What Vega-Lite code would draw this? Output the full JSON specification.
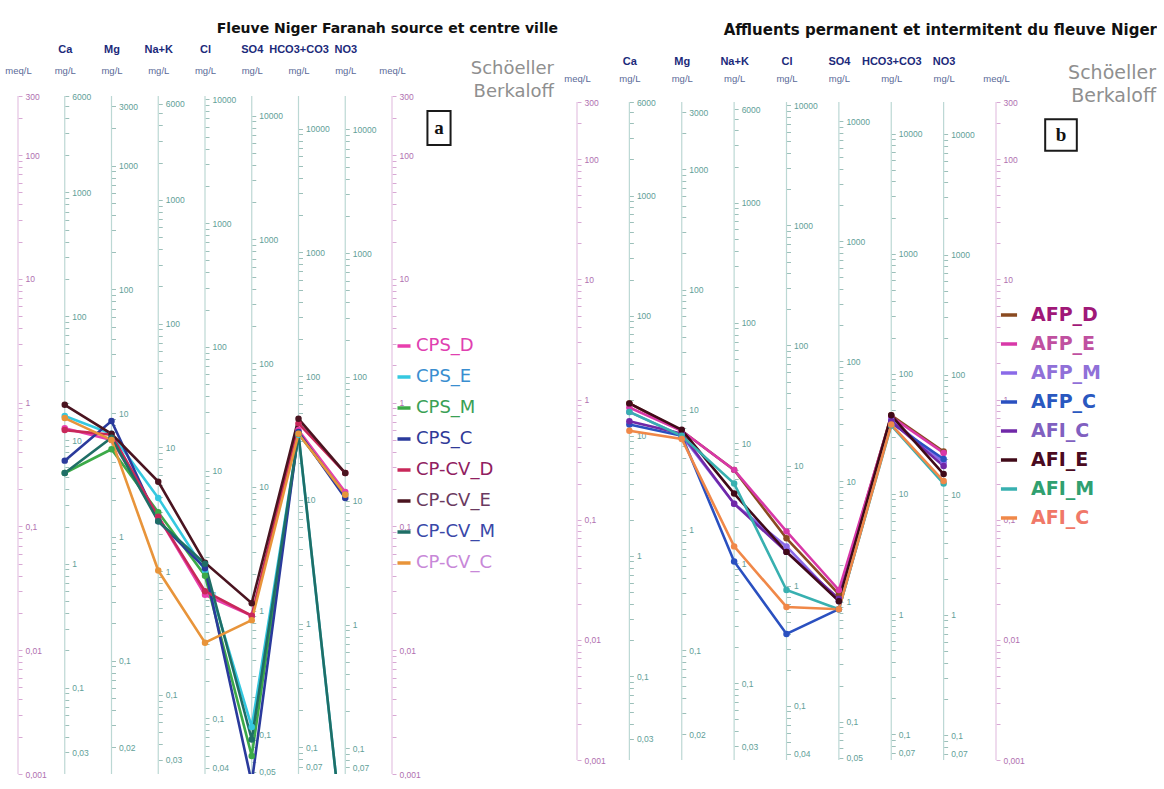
{
"$schema": "https://vega.github.io/schema/vega-lite/v6.json",
"background": "white",
"padding": {"left": 0, "top": 22, "right": 0, "bottom": 0},
"spacing": 5,
"config": {"view": {"stroke": null}, "font": "Liberation Sans"},
"datasets": {
"a": [
{"sample":"CPS_D","k":1,"ion":"Ca","meq":0.62},{"sample":"CPS_D","k":2,"ion":"Mg","meq":0.50},{"sample":"CPS_D","k":3,"ion":"Na+K","meq":0.12},{"sample":"CPS_D","k":4,"ion":"Cl","meq":0.028},{"sample":"CPS_D","k":5,"ion":"SO4","meq":0.019},{"sample":"CPS_D","k":6,"ion":"HCO3+CO3","meq":0.60},{"sample":"CPS_D","k":7,"ion":"NO3","meq":0.19},
{"sample":"CPS_E","k":1,"ion":"Ca","meq":0.78},{"sample":"CPS_E","k":2,"ion":"Mg","meq":0.56},{"sample":"CPS_E","k":3,"ion":"Na+K","meq":0.17},{"sample":"CPS_E","k":4,"ion":"Cl","meq":0.044},{"sample":"CPS_E","k":5,"ion":"SO4","meq":0.0024},{"sample":"CPS_E","k":6,"ion":"HCO3+CO3","meq":0.55},{"sample":"CPS_E","k":7,"ion":"NO3","meq":0.0002},
{"sample":"CPS_M","k":1,"ion":"Ca","meq":0.27},{"sample":"CPS_M","k":2,"ion":"Mg","meq":0.42},{"sample":"CPS_M","k":3,"ion":"Na+K","meq":0.13},{"sample":"CPS_M","k":4,"ion":"Cl","meq":0.040},{"sample":"CPS_M","k":5,"ion":"SO4","meq":0.0014},{"sample":"CPS_M","k":6,"ion":"HCO3+CO3","meq":0.56},{"sample":"CPS_M","k":7,"ion":"NO3","meq":0.18},
{"sample":"CPS_C","k":1,"ion":"Ca","meq":0.34},{"sample":"CPS_C","k":2,"ion":"Mg","meq":0.71},{"sample":"CPS_C","k":3,"ion":"Na+K","meq":0.11},{"sample":"CPS_C","k":4,"ion":"Cl","meq":0.046},{"sample":"CPS_C","k":5,"ion":"SO4","meq":0.00085},{"sample":"CPS_C","k":6,"ion":"HCO3+CO3","meq":0.58},{"sample":"CPS_C","k":7,"ion":"NO3","meq":0.17},
{"sample":"CP-CV_D","k":1,"ion":"Ca","meq":0.60},{"sample":"CP-CV_D","k":2,"ion":"Mg","meq":0.55},{"sample":"CP-CV_D","k":3,"ion":"Na+K","meq":0.12},{"sample":"CP-CV_D","k":4,"ion":"Cl","meq":0.030},{"sample":"CP-CV_D","k":5,"ion":"SO4","meq":0.019},{"sample":"CP-CV_D","k":6,"ion":"HCO3+CO3","meq":0.68},{"sample":"CP-CV_D","k":7,"ion":"NO3","meq":0.27},
{"sample":"CP-CV_E","k":1,"ion":"Ca","meq":0.96},{"sample":"CP-CV_E","k":2,"ion":"Mg","meq":0.56},{"sample":"CP-CV_E","k":3,"ion":"Na+K","meq":0.23},{"sample":"CP-CV_E","k":4,"ion":"Cl","meq":0.051},{"sample":"CP-CV_E","k":5,"ion":"SO4","meq":0.024},{"sample":"CP-CV_E","k":6,"ion":"HCO3+CO3","meq":0.74},{"sample":"CP-CV_E","k":7,"ion":"NO3","meq":0.27},
{"sample":"CP-CV_M","k":1,"ion":"Ca","meq":0.27},{"sample":"CP-CV_M","k":2,"ion":"Mg","meq":0.52},{"sample":"CP-CV_M","k":3,"ion":"Na+K","meq":0.11},{"sample":"CP-CV_M","k":4,"ion":"Cl","meq":0.050},{"sample":"CP-CV_M","k":5,"ion":"SO4","meq":0.0019},{"sample":"CP-CV_M","k":6,"ion":"HCO3+CO3","meq":0.56},{"sample":"CP-CV_M","k":7,"ion":"NO3","meq":0.0002},
{"sample":"CP-CV_C","k":1,"ion":"Ca","meq":0.75},{"sample":"CP-CV_C","k":2,"ion":"Mg","meq":0.50},{"sample":"CP-CV_C","k":3,"ion":"Na+K","meq":0.044},{"sample":"CP-CV_C","k":4,"ion":"Cl","meq":0.0115},{"sample":"CP-CV_C","k":5,"ion":"SO4","meq":0.0175},{"sample":"CP-CV_C","k":6,"ion":"HCO3+CO3","meq":0.56},{"sample":"CP-CV_C","k":7,"ion":"NO3","meq":0.18}
],
"b": [
{"sample":"AFP_D","k":1,"ion":"Ca","meq":0.93},{"sample":"AFP_D","k":2,"ion":"Mg","meq":0.55},{"sample":"AFP_D","k":3,"ion":"Na+K","meq":0.26},{"sample":"AFP_D","k":4,"ion":"Cl","meq":0.07},{"sample":"AFP_D","k":5,"ion":"SO4","meq":0.024},{"sample":"AFP_D","k":6,"ion":"HCO3+CO3","meq":0.74},{"sample":"AFP_D","k":7,"ion":"NO3","meq":0.37},
{"sample":"AFP_E","k":1,"ion":"Ca","meq":0.86},{"sample":"AFP_E","k":2,"ion":"Mg","meq":0.55},{"sample":"AFP_E","k":3,"ion":"Na+K","meq":0.26},{"sample":"AFP_E","k":4,"ion":"Cl","meq":0.08},{"sample":"AFP_E","k":5,"ion":"SO4","meq":0.026},{"sample":"AFP_E","k":6,"ion":"HCO3+CO3","meq":0.72},{"sample":"AFP_E","k":7,"ion":"NO3","meq":0.36},
{"sample":"AFP_M","k":1,"ion":"Ca","meq":0.79},{"sample":"AFP_M","k":2,"ion":"Mg","meq":0.50},{"sample":"AFP_M","k":3,"ion":"Na+K","meq":0.136},{"sample":"AFP_M","k":4,"ion":"Cl","meq":0.06},{"sample":"AFP_M","k":5,"ion":"SO4","meq":0.021},{"sample":"AFP_M","k":6,"ion":"HCO3+CO3","meq":0.68},{"sample":"AFP_M","k":7,"ion":"NO3","meq":0.30},
{"sample":"AFP_C","k":1,"ion":"Ca","meq":0.62},{"sample":"AFP_C","k":2,"ion":"Mg","meq":0.50},{"sample":"AFP_C","k":3,"ion":"Na+K","meq":0.045},{"sample":"AFP_C","k":4,"ion":"Cl","meq":0.0112},{"sample":"AFP_C","k":5,"ion":"SO4","meq":0.018},{"sample":"AFP_C","k":6,"ion":"HCO3+CO3","meq":0.64},{"sample":"AFP_C","k":7,"ion":"NO3","meq":0.32},
{"sample":"AFI_C","k":1,"ion":"Ca","meq":0.66},{"sample":"AFI_C","k":2,"ion":"Mg","meq":0.52},{"sample":"AFI_C","k":3,"ion":"Na+K","meq":0.136},{"sample":"AFI_C","k":4,"ion":"Cl","meq":0.054},{"sample":"AFI_C","k":5,"ion":"SO4","meq":0.022},{"sample":"AFI_C","k":6,"ion":"HCO3+CO3","meq":0.66},{"sample":"AFI_C","k":7,"ion":"NO3","meq":0.28},
{"sample":"AFI_E","k":1,"ion":"Ca","meq":0.93},{"sample":"AFI_E","k":2,"ion":"Mg","meq":0.56},{"sample":"AFI_E","k":3,"ion":"Na+K","meq":0.165},{"sample":"AFI_E","k":4,"ion":"Cl","meq":0.054},{"sample":"AFI_E","k":5,"ion":"SO4","meq":0.021},{"sample":"AFI_E","k":6,"ion":"HCO3+CO3","meq":0.74},{"sample":"AFI_E","k":7,"ion":"NO3","meq":0.24},
{"sample":"AFI_M","k":1,"ion":"Ca","meq":0.79},{"sample":"AFI_M","k":2,"ion":"Mg","meq":0.50},{"sample":"AFI_M","k":3,"ion":"Na+K","meq":0.20},{"sample":"AFI_M","k":4,"ion":"Cl","meq":0.026},{"sample":"AFI_M","k":5,"ion":"SO4","meq":0.018},{"sample":"AFI_M","k":6,"ion":"HCO3+CO3","meq":0.61},{"sample":"AFI_M","k":7,"ion":"NO3","meq":0.20},
{"sample":"AFI_C2","k":1,"ion":"Ca","meq":0.55},{"sample":"AFI_C2","k":2,"ion":"Mg","meq":0.47},{"sample":"AFI_C2","k":3,"ion":"Na+K","meq":0.06},{"sample":"AFI_C2","k":4,"ion":"Cl","meq":0.0188},{"sample":"AFI_C2","k":5,"ion":"SO4","meq":0.018},{"sample":"AFI_C2","k":6,"ion":"HCO3+CO3","meq":0.62},{"sample":"AFI_C2","k":7,"ion":"NO3","meq":0.21}
]
},
"hconcat": [
{
"width": 558, "height": 678,
"title": {"text": "Fleuve  Niger Faranah source et centre ville", "anchor": "end", "frame": "group", "fontSize": 14, "font": "DejaVu Sans", "fontWeight": "bold", "color": "#111", "offset": 7},
"resolve": {"scale": {"y": "independent"}, "axis": {"x": "independent", "y": "independent"}},
"layer": [
{"data": {"values": [{}]}, "mark": {"type": "rule", "color": "#e4c3e2", "strokeWidth": 1.2},
 "encoding": {
  "x": {"datum": 0, "type": "quantitative", "scale": {"type": "linear", "domain": [0, 8], "range": [18, 392], "nice": false, "zero": false},
        "axis": {"orient": "top", "values": [0,1,2,3,4,5,6,7,8], "title": null, "domain": false, "ticks": false, "tickSize": 0, "labelPadding": 21, "labelAngle": 0, "labelFlush": false, "labelBound": false, "labelFontSize": 9.5, "labelColor": "#5a6a98", "labelOverlap": false, "grid": false, "labelExpr": "datum.value == 0 || datum.value == 8 ? 'meq/L' : 'mg/L'"}},
  "y": {"datum": 0.001, "type": "quantitative", "scale": {"type": "log", "domain": [0.001, 300], "nice": false, "range": [678, 0]},
        "axis": {"orient": "right", "offset": -540, "title": null, "domain": false, "grid": false, "tickSize": 4, "tickColor": "#d8a8d4", "tickCount": 80, "labelOverlap": false, "labelFontSize": 8.5, "labelColor": "#b070b0", "labelPadding": 3, "labelExpr": "indexof([300,100,10,1,0.1,0.01,0.001], datum.value) >= 0 ? replace(format(datum.value, '~g'), '.', ',') : ''"}},
  "y2": {"datum": 300}}},
{"data": {"values": [{}]}, "mark": {"type": "rule", "color": "#bcd8d4", "strokeWidth": 1.2},
 "encoding": {
  "x": {"datum": 1, "type": "quantitative", "scale": {"type": "linear", "domain": [0, 8], "range": [18, 392], "nice": false, "zero": false}, "axis": null},
  "y": {"datum": 0.02004, "type": "quantitative", "scale": {"type": "log", "domain": [0.02004, 6012], "nice": false, "range": [678, 0]},
        "axis": {"orient": "right", "offset": -493.25, "title": null, "domain": false, "grid": false, "tickSize": 4, "tickColor": "#9cc0ba", "tickCount": 80, "labelOverlap": false, "labelFontSize": 8.5, "labelColor": "#62a098", "labelPadding": 3, "labelExpr": "indexof([6000,1000,100,10,1,0.1,0.03], datum.value) >= 0 ? replace(format(datum.value, '~g'), '.', ',') : ''"}},
  "y2": {"datum": 6012}}},
{"data": {"values": [{}]}, "mark": {"type": "rule", "color": "#bcd8d4", "strokeWidth": 1.2},
 "encoding": {
  "x": {"datum": 2, "type": "quantitative", "scale": {"type": "linear", "domain": [0, 8], "range": [18, 392], "nice": false, "zero": false}, "axis": null},
  "y": {"datum": 0.012153, "type": "quantitative", "scale": {"type": "log", "domain": [0.012153, 3645.9], "nice": false, "range": [678, 0]},
        "axis": {"orient": "right", "offset": -446.5, "title": null, "domain": false, "grid": false, "tickSize": 4, "tickColor": "#9cc0ba", "tickCount": 80, "labelOverlap": false, "labelFontSize": 8.5, "labelColor": "#62a098", "labelPadding": 3, "labelExpr": "indexof([3000,1000,100,10,1,0.1,0.02], datum.value) >= 0 ? replace(format(datum.value, '~g'), '.', ',') : ''"}},
  "y2": {"datum": 3645.9}}},
{"data": {"values": [{}]}, "mark": {"type": "rule", "color": "#bcd8d4", "strokeWidth": 1.2},
 "encoding": {
  "x": {"datum": 3, "type": "quantitative", "scale": {"type": "linear", "domain": [0, 8], "range": [18, 392], "nice": false, "zero": false}, "axis": null},
  "y": {"datum": 0.023, "type": "quantitative", "scale": {"type": "log", "domain": [0.023, 6900], "nice": false, "range": [678, 0]},
        "axis": {"orient": "right", "offset": -399.75, "title": null, "domain": false, "grid": false, "tickSize": 4, "tickColor": "#9cc0ba", "tickCount": 80, "labelOverlap": false, "labelFontSize": 8.5, "labelColor": "#62a098", "labelPadding": 3, "labelExpr": "indexof([6000,1000,100,10,1,0.1,0.03], datum.value) >= 0 ? replace(format(datum.value, '~g'), '.', ',') : ''"}},
  "y2": {"datum": 6900}}},
{"data": {"values": [{}]}, "mark": {"type": "rule", "color": "#bcd8d4", "strokeWidth": 1.2},
 "encoding": {
  "x": {"datum": 4, "type": "quantitative", "scale": {"type": "linear", "domain": [0, 8], "range": [18, 392], "nice": false, "zero": false}, "axis": null},
  "y": {"datum": 0.03545, "type": "quantitative", "scale": {"type": "log", "domain": [0.03545, 10635], "nice": false, "range": [678, 0]},
        "axis": {"orient": "right", "offset": -353, "title": null, "domain": false, "grid": false, "tickSize": 4, "tickColor": "#9cc0ba", "tickCount": 80, "labelOverlap": false, "labelFontSize": 8.5, "labelColor": "#62a098", "labelPadding": 3, "labelExpr": "indexof([10000,1000,100,10,1,0.1,0.04], datum.value) >= 0 ? replace(format(datum.value, '~g'), '.', ',') : ''"}},
  "y2": {"datum": 10635}}},
{"data": {"values": [{}]}, "mark": {"type": "rule", "color": "#bcd8d4", "strokeWidth": 1.2},
 "encoding": {
  "x": {"datum": 5, "type": "quantitative", "scale": {"type": "linear", "domain": [0, 8], "range": [18, 392], "nice": false, "zero": false}, "axis": null},
  "y": {"datum": 0.04803, "type": "quantitative", "scale": {"type": "log", "domain": [0.04803, 14409], "nice": false, "range": [678, 0]},
        "axis": {"orient": "right", "offset": -306.25, "title": null, "domain": false, "grid": false, "tickSize": 4, "tickColor": "#9cc0ba", "tickCount": 80, "labelOverlap": false, "labelFontSize": 8.5, "labelColor": "#62a098", "labelPadding": 3, "labelExpr": "indexof([10000,1000,100,10,1,0.1,0.05], datum.value) >= 0 ? replace(format(datum.value, '~g'), '.', ',') : ''"}},
  "y2": {"datum": 14409}}},
{"data": {"values": [{}]}, "mark": {"type": "rule", "color": "#bcd8d4", "strokeWidth": 1.2},
 "encoding": {
  "x": {"datum": 6, "type": "quantitative", "scale": {"type": "linear", "domain": [0, 8], "range": [18, 392], "nice": false, "zero": false}, "axis": null},
  "y": {"datum": 0.06102, "type": "quantitative", "scale": {"type": "log", "domain": [0.06102, 18306], "nice": false, "range": [678, 0]},
        "axis": {"orient": "right", "offset": -259.5, "title": null, "domain": false, "grid": false, "tickSize": 4, "tickColor": "#9cc0ba", "tickCount": 80, "labelOverlap": false, "labelFontSize": 8.5, "labelColor": "#62a098", "labelPadding": 3, "labelExpr": "indexof([10000,1000,100,10,1,0.1,0.07], datum.value) >= 0 ? replace(format(datum.value, '~g'), '.', ',') : ''"}},
  "y2": {"datum": 18306}}},
{"data": {"values": [{}]}, "mark": {"type": "rule", "color": "#bcd8d4", "strokeWidth": 1.2},
 "encoding": {
  "x": {"datum": 7, "type": "quantitative", "scale": {"type": "linear", "domain": [0, 8], "range": [18, 392], "nice": false, "zero": false}, "axis": null},
  "y": {"datum": 0.062, "type": "quantitative", "scale": {"type": "log", "domain": [0.062, 18600], "nice": false, "range": [678, 0]},
        "axis": {"orient": "right", "offset": -212.75, "title": null, "domain": false, "grid": false, "tickSize": 4, "tickColor": "#9cc0ba", "tickCount": 80, "labelOverlap": false, "labelFontSize": 8.5, "labelColor": "#62a098", "labelPadding": 3, "labelExpr": "indexof([10000,1000,100,10,1,0.1,0.07], datum.value) >= 0 ? replace(format(datum.value, '~g'), '.', ',') : ''"}},
  "y2": {"datum": 18600}}},
{"data": {"values": [{}]}, "mark": {"type": "rule", "color": "#e4c3e2", "strokeWidth": 1.2},
 "encoding": {
  "x": {"datum": 8, "type": "quantitative", "scale": {"type": "linear", "domain": [0, 8], "range": [18, 392], "nice": false, "zero": false}, "axis": null},
  "y": {"datum": 0.001, "type": "quantitative", "scale": {"type": "log", "domain": [0.001, 300], "nice": false, "range": [678, 0]},
        "axis": {"orient": "right", "offset": -166, "title": null, "domain": false, "grid": false, "tickSize": 4, "tickColor": "#d8a8d4", "tickCount": 80, "labelOverlap": false, "labelFontSize": 8.5, "labelColor": "#b070b0", "labelPadding": 3, "labelExpr": "indexof([300,100,10,1,0.1,0.01,0.001], datum.value) >= 0 ? replace(format(datum.value, '~g'), '.', ',') : ''"}},
  "y2": {"datum": 300}}},
{"data": {"name": "a"}, "mark": {"type": "line", "strokeWidth": 2.6, "clip": true},
 "encoding": {
  "x": {"field": "k", "type": "quantitative", "scale": {"type": "linear", "domain": [0, 8], "range": [18, 392], "nice": false, "zero": false},
        "axis": {"orient": "top", "values": [1,2,3,4,5,6,7], "title": null, "domain": false, "ticks": false, "tickSize": 0, "labelPadding": 42, "labelAngle": 0, "labelFlush": false, "labelBound": false, "labelFontSize": 11, "labelFontWeight": "bold", "labelColor": "#1c2a7a", "labelOverlap": false, "grid": false, "labelExpr": "['','Ca','Mg','Na+K','Cl','SO4','HCO3+CO3','NO3',''][datum.value]"}},
  "y": {"field": "meq", "type": "quantitative", "scale": {"type": "log", "domain": [0.001, 300], "nice": false, "range": [678, 0]}, "axis": null},
  "color": {"field": "sample", "type": "nominal",
    "scale": {"domain": ["CPS_D","CPS_E","CPS_M","CPS_C","CP-CV_D","CP-CV_E","CP-CV_M","CP-CV_C"], "range": ["#e83fae","#35c8e0","#3caa48","#2a3a9c","#c8285a","#4a1420","#1f6e66","#e8943a"]},
    "legend": {"orient": "none", "legendX": 395, "legendY": 241, "title": null, "symbolType": "stroke", "symbolStrokeWidth": 3.5, "symbolSize": 170, "labelFontSize": 18, "labelFont": "DejaVu Sans", "rowPadding": 13, "labelOffset": 3,
      "encoding": {"labels": {"fill": {"value": {"expr": "datum.value==='CPS_D'?'#e040b0':datum.value==='CPS_E'?'#3a8ed0':datum.value==='CPS_M'?'#3aa055':datum.value==='CPS_C'?'#303a98':datum.value==='CP-CV_D'?'#902060':datum.value==='CP-CV_E'?'#6a3a60':datum.value==='CP-CV_M'?'#3a48a8':'#c888d8'"}}}}}}}},
{"data": {"name": "a"}, "mark": {"type": "point", "filled": true, "size": 42, "opacity": 1, "clip": true},
 "encoding": {
  "x": {"field": "k", "type": "quantitative", "scale": {"type": "linear", "domain": [0, 8], "range": [18, 392], "nice": false, "zero": false}, "axis": null},
  "y": {"field": "meq", "type": "quantitative", "scale": {"type": "log", "domain": [0.001, 300], "nice": false, "range": [678, 0]}, "axis": null},
  "color": {"field": "sample", "type": "nominal"}}},
{"data": {"values": [{}]}, "mark": {"type": "text", "text": ["Schöeller", "Berkaloff"], "align": "right", "baseline": "top", "dx": 162, "dy": -36, "fontSize": 18, "lineHeight": 23, "color": "#8f8f8f", "font": "DejaVu Sans"},
 "encoding": {
  "x": {"datum": 8, "type": "quantitative", "scale": {"type": "linear", "domain": [0, 8], "range": [18, 392], "nice": false, "zero": false}, "axis": null},
  "y": {"datum": 300, "type": "quantitative", "scale": {"type": "log", "domain": [0.001, 300], "nice": false, "range": [678, 0]}, "axis": null}}},
{"data": {"values": [{}]}, "mark": {"type": "point", "shape": "M-0.68,-1L0.68,-1L0.68,1L-0.68,1Z", "size": 1156, "filled": false, "fill": "white", "stroke": "#1a1a1a", "strokeWidth": 2, "xOffset": 47, "yOffset": 32, "opacity": 1},
 "encoding": {
  "x": {"datum": 8, "type": "quantitative", "scale": {"type": "linear", "domain": [0, 8], "range": [18, 392], "nice": false, "zero": false}, "axis": null},
  "y": {"datum": 300, "type": "quantitative", "scale": {"type": "log", "domain": [0.001, 300], "nice": false, "range": [678, 0]}, "axis": null}}},
{"data": {"values": [{}]}, "mark": {"type": "text", "text": "a", "align": "center", "baseline": "middle", "dx": 47, "dy": 32, "fontSize": 19, "fontWeight": "bold", "font": "Liberation Serif", "color": "#111"},
 "encoding": {
  "x": {"datum": 8, "type": "quantitative", "scale": {"type": "linear", "domain": [0, 8], "range": [18, 392], "nice": false, "zero": false}, "axis": null},
  "y": {"datum": 300, "type": "quantitative", "scale": {"type": "log", "domain": [0.001, 300], "nice": false, "range": [678, 0]}, "axis": null}}}
]
},
{
"width": 588, "height": 664,
"title": {"text": "Affluents permanent et intermitent  du fleuve Niger", "anchor": "end", "frame": "group", "fontSize": 15, "font": "DejaVu Sans", "fontWeight": "bold", "color": "#111", "offset": 18},
"resolve": {"scale": {"y": "independent"}, "axis": {"x": "independent", "y": "independent"}},
"layer": [
{"data": {"values": [{}]}, "mark": {"type": "rule", "color": "#e4c3e2", "strokeWidth": 1.2},
 "encoding": {
  "x": {"datum": 0, "type": "quantitative", "scale": {"type": "linear", "domain": [0, 8], "range": [8, 427], "nice": false, "zero": false},
        "axis": {"orient": "top", "values": [0,1,2,3,4,5,6,7,8], "title": null, "domain": false, "ticks": false, "tickSize": 0, "labelPadding": 12.5, "labelAngle": 0, "labelFlush": false, "labelBound": false, "labelFontSize": 9.5, "labelColor": "#5a6a98", "labelOverlap": false, "grid": false, "labelExpr": "datum.value == 0 || datum.value == 8 ? 'meq/L' : 'mg/L'"}},
  "y": {"datum": 0.001, "type": "quantitative", "scale": {"type": "log", "domain": [0.001, 300], "nice": false, "range": [664, 6]},
        "axis": {"orient": "right", "offset": -580, "title": null, "domain": false, "grid": false, "tickSize": 4, "tickColor": "#d8a8d4", "tickCount": 80, "labelOverlap": false, "labelFontSize": 8.5, "labelColor": "#b070b0", "labelPadding": 3, "labelExpr": "indexof([300,100,10,1,0.1,0.01,0.001], datum.value) >= 0 ? replace(format(datum.value, '~g'), '.', ',') : ''"}},
  "y2": {"datum": 300}}},
{"data": {"values": [{}]}, "mark": {"type": "rule", "color": "#bcd8d4", "strokeWidth": 1.2},
 "encoding": {
  "x": {"datum": 1, "type": "quantitative", "scale": {"type": "linear", "domain": [0, 8], "range": [8, 427], "nice": false, "zero": false}, "axis": null},
  "y": {"datum": 0.02004, "type": "quantitative", "scale": {"type": "log", "domain": [0.02004, 6012], "nice": false, "range": [664, 6]},
        "axis": {"orient": "right", "offset": -527.625, "title": null, "domain": false, "grid": false, "tickSize": 4, "tickColor": "#9cc0ba", "tickCount": 80, "labelOverlap": false, "labelFontSize": 8.5, "labelColor": "#62a098", "labelPadding": 3, "labelExpr": "indexof([6000,1000,100,10,1,0.1,0.03], datum.value) >= 0 ? replace(format(datum.value, '~g'), '.', ',') : ''"}},
  "y2": {"datum": 6012}}},
{"data": {"values": [{}]}, "mark": {"type": "rule", "color": "#bcd8d4", "strokeWidth": 1.2},
 "encoding": {
  "x": {"datum": 2, "type": "quantitative", "scale": {"type": "linear", "domain": [0, 8], "range": [8, 427], "nice": false, "zero": false}, "axis": null},
  "y": {"datum": 0.012153, "type": "quantitative", "scale": {"type": "log", "domain": [0.012153, 3645.9], "nice": false, "range": [664, 6]},
        "axis": {"orient": "right", "offset": -475.25, "title": null, "domain": false, "grid": false, "tickSize": 4, "tickColor": "#9cc0ba", "tickCount": 80, "labelOverlap": false, "labelFontSize": 8.5, "labelColor": "#62a098", "labelPadding": 3, "labelExpr": "indexof([3000,1000,100,10,1,0.1,0.02], datum.value) >= 0 ? replace(format(datum.value, '~g'), '.', ',') : ''"}},
  "y2": {"datum": 3645.9}}},
{"data": {"values": [{}]}, "mark": {"type": "rule", "color": "#bcd8d4", "strokeWidth": 1.2},
 "encoding": {
  "x": {"datum": 3, "type": "quantitative", "scale": {"type": "linear", "domain": [0, 8], "range": [8, 427], "nice": false, "zero": false}, "axis": null},
  "y": {"datum": 0.023, "type": "quantitative", "scale": {"type": "log", "domain": [0.023, 6900], "nice": false, "range": [664, 6]},
        "axis": {"orient": "right", "offset": -422.875, "title": null, "domain": false, "grid": false, "tickSize": 4, "tickColor": "#9cc0ba", "tickCount": 80, "labelOverlap": false, "labelFontSize": 8.5, "labelColor": "#62a098", "labelPadding": 3, "labelExpr": "indexof([6000,1000,100,10,1,0.1,0.03], datum.value) >= 0 ? replace(format(datum.value, '~g'), '.', ',') : ''"}},
  "y2": {"datum": 6900}}},
{"data": {"values": [{}]}, "mark": {"type": "rule", "color": "#bcd8d4", "strokeWidth": 1.2},
 "encoding": {
  "x": {"datum": 4, "type": "quantitative", "scale": {"type": "linear", "domain": [0, 8], "range": [8, 427], "nice": false, "zero": false}, "axis": null},
  "y": {"datum": 0.03545, "type": "quantitative", "scale": {"type": "log", "domain": [0.03545, 10635], "nice": false, "range": [664, 6]},
        "axis": {"orient": "right", "offset": -370.5, "title": null, "domain": false, "grid": false, "tickSize": 4, "tickColor": "#9cc0ba", "tickCount": 80, "labelOverlap": false, "labelFontSize": 8.5, "labelColor": "#62a098", "labelPadding": 3, "labelExpr": "indexof([10000,1000,100,10,1,0.1,0.04], datum.value) >= 0 ? replace(format(datum.value, '~g'), '.', ',') : ''"}},
  "y2": {"datum": 10635}}},
{"data": {"values": [{}]}, "mark": {"type": "rule", "color": "#bcd8d4", "strokeWidth": 1.2},
 "encoding": {
  "x": {"datum": 5, "type": "quantitative", "scale": {"type": "linear", "domain": [0, 8], "range": [8, 427], "nice": false, "zero": false}, "axis": null},
  "y": {"datum": 0.04803, "type": "quantitative", "scale": {"type": "log", "domain": [0.04803, 14409], "nice": false, "range": [664, 6]},
        "axis": {"orient": "right", "offset": -318.125, "title": null, "domain": false, "grid": false, "tickSize": 4, "tickColor": "#9cc0ba", "tickCount": 80, "labelOverlap": false, "labelFontSize": 8.5, "labelColor": "#62a098", "labelPadding": 3, "labelExpr": "indexof([10000,1000,100,10,1,0.1,0.05], datum.value) >= 0 ? replace(format(datum.value, '~g'), '.', ',') : ''"}},
  "y2": {"datum": 14409}}},
{"data": {"values": [{}]}, "mark": {"type": "rule", "color": "#bcd8d4", "strokeWidth": 1.2},
 "encoding": {
  "x": {"datum": 6, "type": "quantitative", "scale": {"type": "linear", "domain": [0, 8], "range": [8, 427], "nice": false, "zero": false}, "axis": null},
  "y": {"datum": 0.06102, "type": "quantitative", "scale": {"type": "log", "domain": [0.06102, 18306], "nice": false, "range": [664, 6]},
        "axis": {"orient": "right", "offset": -265.75, "title": null, "domain": false, "grid": false, "tickSize": 4, "tickColor": "#9cc0ba", "tickCount": 80, "labelOverlap": false, "labelFontSize": 8.5, "labelColor": "#62a098", "labelPadding": 3, "labelExpr": "indexof([10000,1000,100,10,1,0.1,0.07], datum.value) >= 0 ? replace(format(datum.value, '~g'), '.', ',') : ''"}},
  "y2": {"datum": 18306}}},
{"data": {"values": [{}]}, "mark": {"type": "rule", "color": "#bcd8d4", "strokeWidth": 1.2},
 "encoding": {
  "x": {"datum": 7, "type": "quantitative", "scale": {"type": "linear", "domain": [0, 8], "range": [8, 427], "nice": false, "zero": false}, "axis": null},
  "y": {"datum": 0.062, "type": "quantitative", "scale": {"type": "log", "domain": [0.062, 18600], "nice": false, "range": [664, 6]},
        "axis": {"orient": "right", "offset": -213.375, "title": null, "domain": false, "grid": false, "tickSize": 4, "tickColor": "#9cc0ba", "tickCount": 80, "labelOverlap": false, "labelFontSize": 8.5, "labelColor": "#62a098", "labelPadding": 3, "labelExpr": "indexof([10000,1000,100,10,1,0.1,0.07], datum.value) >= 0 ? replace(format(datum.value, '~g'), '.', ',') : ''"}},
  "y2": {"datum": 18600}}},
{"data": {"values": [{}]}, "mark": {"type": "rule", "color": "#e4c3e2", "strokeWidth": 1.2},
 "encoding": {
  "x": {"datum": 8, "type": "quantitative", "scale": {"type": "linear", "domain": [0, 8], "range": [8, 427], "nice": false, "zero": false}, "axis": null},
  "y": {"datum": 0.001, "type": "quantitative", "scale": {"type": "log", "domain": [0.001, 300], "nice": false, "range": [664, 6]},
        "axis": {"orient": "right", "offset": -161, "title": null, "domain": false, "grid": false, "tickSize": 4, "tickColor": "#d8a8d4", "tickCount": 80, "labelOverlap": false, "labelFontSize": 8.5, "labelColor": "#b070b0", "labelPadding": 3, "labelExpr": "indexof([300,100,10,1,0.1,0.01,0.001], datum.value) >= 0 ? replace(format(datum.value, '~g'), '.', ',') : ''"}},
  "y2": {"datum": 300}}},
{"data": {"name": "b"}, "mark": {"type": "line", "strokeWidth": 2.6, "clip": true},
 "encoding": {
  "x": {"field": "k", "type": "quantitative", "scale": {"type": "linear", "domain": [0, 8], "range": [8, 427], "nice": false, "zero": false},
        "axis": {"orient": "top", "values": [1,2,3,4,5,6,7], "title": null, "domain": false, "ticks": false, "tickSize": 0, "labelPadding": 29.5, "labelAngle": 0, "labelFlush": false, "labelBound": false, "labelFontSize": 11, "labelFontWeight": "bold", "labelColor": "#1c2a7a", "labelOverlap": false, "grid": false, "labelExpr": "['','Ca','Mg','Na+K','Cl','SO4','HCO3+CO3','NO3',''][datum.value]"}},
  "y": {"field": "meq", "type": "quantitative", "scale": {"type": "log", "domain": [0.001, 300], "nice": false, "range": [664, 6]}, "axis": null},
  "color": {"field": "sample", "type": "nominal",
    "scale": {"domain": ["AFP_D","AFP_E","AFP_M","AFP_C","AFI_C","AFI_E","AFI_M","AFI_C2"], "range": ["#8a4a20","#d838a8","#8a6ae8","#2a50c0","#7028a8","#400a18","#38b0b0","#f08848"]},
    "legend": {"orient": "none", "legendX": 430, "legendY": 209, "title": null, "symbolType": "stroke", "symbolStrokeWidth": 3.5, "symbolSize": 260, "labelFontSize": 19, "labelFont": "DejaVu Sans", "labelFontWeight": "bold", "rowPadding": 9, "labelOffset": 12,
      "labelExpr": "datum.value === 'AFI_C2' ? 'AFI_C' : datum.label",
      "encoding": {"labels": {"fill": {"value": {"expr": "datum.value==='AFP_D'?'#a01878':datum.value==='AFP_E'?'#c050a0':datum.value==='AFP_M'?'#9070d8':datum.value==='AFP_C'?'#2a58c0':datum.value==='AFI_C'?'#8060c0':datum.value==='AFI_E'?'#4a0a20':datum.value==='AFI_M'?'#30a070':'#f07868'"}}}}}}}},
{"data": {"name": "b"}, "mark": {"type": "point", "filled": true, "size": 42, "opacity": 1, "clip": true},
 "encoding": {
  "x": {"field": "k", "type": "quantitative", "scale": {"type": "linear", "domain": [0, 8], "range": [8, 427], "nice": false, "zero": false}, "axis": null},
  "y": {"field": "meq", "type": "quantitative", "scale": {"type": "log", "domain": [0.001, 300], "nice": false, "range": [664, 6]}, "axis": null},
  "color": {"field": "sample", "type": "nominal"}}},
{"data": {"values": [{}]}, "mark": {"type": "text", "text": ["Schöeller", "Berkaloff"], "align": "right", "baseline": "top", "dx": 160, "dy": -38, "fontSize": 19, "lineHeight": 23, "color": "#8f8f8f", "font": "DejaVu Sans"},
 "encoding": {
  "x": {"datum": 8, "type": "quantitative", "scale": {"type": "linear", "domain": [0, 8], "range": [8, 427], "nice": false, "zero": false}, "axis": null},
  "y": {"datum": 300, "type": "quantitative", "scale": {"type": "log", "domain": [0.001, 300], "nice": false, "range": [664, 6]}, "axis": null}}},
{"data": {"values": [{}]}, "mark": {"type": "point", "shape": "square", "size": 1000, "filled": false, "fill": "white", "stroke": "#1a1a1a", "strokeWidth": 2, "xOffset": 65, "yOffset": 33, "opacity": 1},
 "encoding": {
  "x": {"datum": 8, "type": "quantitative", "scale": {"type": "linear", "domain": [0, 8], "range": [8, 427], "nice": false, "zero": false}, "axis": null},
  "y": {"datum": 300, "type": "quantitative", "scale": {"type": "log", "domain": [0.001, 300], "nice": false, "range": [664, 6]}, "axis": null}}},
{"data": {"values": [{}]}, "mark": {"type": "text", "text": "b", "align": "center", "baseline": "middle", "dx": 65, "dy": 33, "fontSize": 19, "fontWeight": "bold", "font": "Liberation Serif", "color": "#111"},
 "encoding": {
  "x": {"datum": 8, "type": "quantitative", "scale": {"type": "linear", "domain": [0, 8], "range": [8, 427], "nice": false, "zero": false}, "axis": null},
  "y": {"datum": 300, "type": "quantitative", "scale": {"type": "log", "domain": [0.001, 300], "nice": false, "range": [664, 6]}, "axis": null}}}
]
}
],
"resolve": {"scale": {"color": "independent", "x": "independent", "y": "independent"}, "legend": {"color": "independent"}}
}
